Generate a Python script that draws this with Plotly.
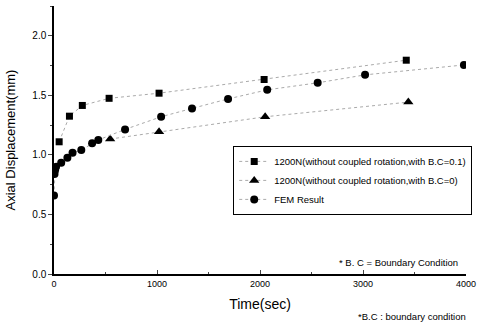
import plotly.graph_objects as go

# Data
sq_time = [50, 150, 275, 535, 1020, 2040, 3420]
sq_disp = [1.11, 1.325, 1.415, 1.475, 1.518, 1.633, 1.795]

tri_time = [545, 1020, 2050, 3440]
tri_disp = [1.133, 1.194, 1.32, 1.443]

fem_time = [0, 5, 10, 20, 70, 130, 180, 265, 370, 430, 690, 1040, 1340, 1690, 2070, 2560, 3020, 3980]
fem_disp = [0.66, 0.84, 0.87, 0.90, 0.935, 0.977, 1.017, 1.04, 1.097, 1.125, 1.214, 1.32, 1.39, 1.47, 1.546, 1.605, 1.672, 1.755]

x_ticks = [0, 1000, 2000, 3000, 4000]
y_ticks = [0.0, 0.5, 1.0, 1.5, 2.0]
y_tick_labels = ["0.0", "0.5", "1.0", "1.5", "2.0"]

names = [
    "1200N(without coupled rotation,with B.C=0.1)",
    "1200N(without coupled rotation,with B.C=0)",
    "FEM Result",
]

FONT = "Liberation Sans, Arial, sans-serif"
line_style = dict(color="#aaaaaa", width=1, dash="dot")

fig = go.Figure()
fig.add_trace(go.Scatter(x=sq_time, y=sq_disp, mode="lines+markers", name=names[0],
                         line=line_style,
                         marker=dict(symbol="square", size=7, color="black")))
fig.add_trace(go.Scatter(x=tri_time, y=tri_disp, mode="lines+markers", name=names[1],
                         line=line_style,
                         marker=dict(symbol="triangle-up", size=9, color="black")))
fig.add_trace(go.Scatter(x=fem_time, y=fem_disp, mode="lines+markers", name=names[2],
                         line=line_style,
                         marker=dict(symbol="circle", size=8, color="black")))

fig.update_layout(
    width=477, height=326,
    autosize=False,
    margin=dict(l=54, r=11, t=6, b=52, autoexpand=False),
    paper_bgcolor="white", plot_bgcolor="white",
    font=dict(family=FONT, color="black", size=10),
    showlegend=True,
    legend=dict(x=0.435, y=0.478, xanchor="left", yanchor="top",
                bgcolor="white", bordercolor="black", borderwidth=1,
                font=dict(size=9.5, family=FONT), tracegroupgap=0,
                itemwidth=30),
    xaxis=dict(range=[0, 4000], tickvals=x_ticks, ticks="inside", ticklen=4,
               showline=True, linecolor="black", linewidth=1.5, showgrid=False,
               zeroline=False, mirror=False, automargin=False,
               minor=dict(ticks="inside", ticklen=2, dtick=500),
               title=dict(text="Time(sec)", font=dict(size=14), standoff=12),
               tickfont=dict(size=9)),
    yaxis=dict(range=[0, 2.25], tickvals=y_ticks, ticktext=y_tick_labels,
               ticks="outside", ticklen=4,
               showline=True, linecolor="black", linewidth=1.5, showgrid=False,
               zeroline=False, mirror=False, automargin=False,
               minor=dict(ticks="outside", ticklen=2, dtick=0.25),
               title=dict(text="Axial Displacement(mm)", font=dict(size=13), standoff=14),
               tickfont=dict(size=10)),
    annotations=[
        dict(text="* B. C = Boundary Condition", xref="paper", yref="paper",
             x=0.985, y=0.042, xanchor="right", yanchor="middle",
             showarrow=False, font=dict(size=9.5, family=FONT)),
        dict(text="*B.C : boundary condition", xref="paper", yref="paper",
             x=1.005, y=-0.157, xanchor="right", yanchor="middle",
             showarrow=False, font=dict(size=9.5, family=FONT)),
    ],
)

fig.write_html("out.html", config={"displayModeBar": False},
               post_script="document.body.style.margin='0';")
